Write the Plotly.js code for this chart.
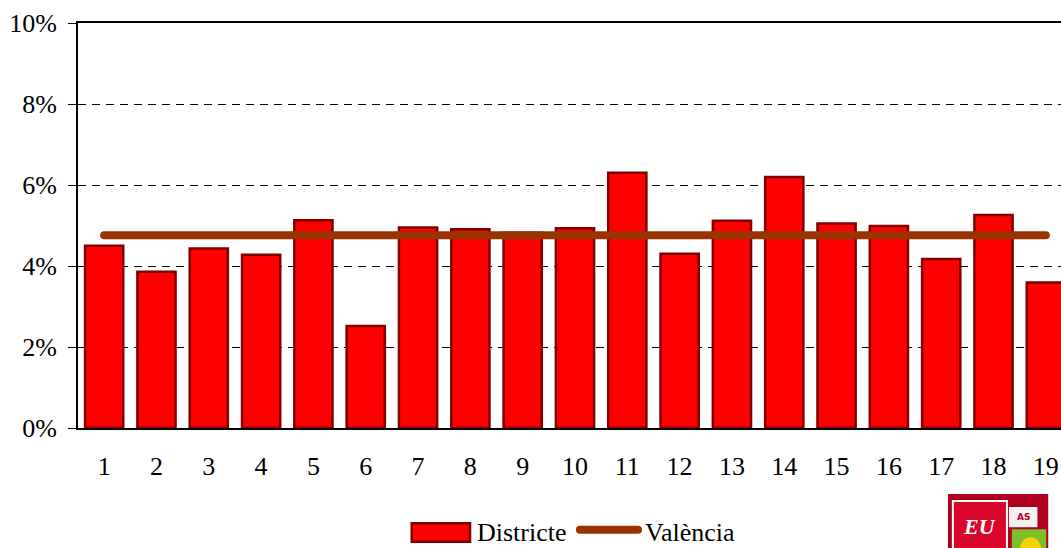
<!DOCTYPE html>
<html>
<head>
<meta charset="utf-8">
<script src="https://cdn.plot.ly/plotly-3.0.1.min.js"></script>
<style>
  html, body { margin: 0; padding: 0; background: #ffffff; }
  #chart { width: 1061px; height: 548px; }
  .scatterlayer path.js-line, .shapelayer path { stroke-linecap: round; }
</style>
</head>
<body>
<div id="chart"></div>
<script>
const districts = ["1", "2", "3", "4", "5", "6", "7", "8", "9", "10",
                   "11", "12", "13", "14", "15", "16", "17", "18", "19"];

// share per district (%)
const districtValues = [4.50, 3.86, 4.43, 4.28, 5.13, 2.52, 4.95, 4.91, 4.82, 4.93,
                        6.30, 4.30, 5.12, 6.20, 5.05, 4.99, 4.17, 5.26, 3.59];

// city average, same for every district
const valenciaValue = 4.76;
const valenciaValues = districts.map(() => valenciaValue);

const yTicks = [0, 2, 4, 6, 8, 10];
const yTickText = ["0%", "2%", "4%", "6%", "8%", "10%"];

const seriesNames = ["Districte", "València"];

const serif = "Liberation Serif, Times New Roman, serif";
const barRed = "#ff0000";
const barEdge = "#800000";
const lineBrown = "#993300";

const barTrace = {
  type: "bar",
  name: seriesNames[0],
  x: districts,
  y: districtValues,
  marker: {
    color: barRed,
    line: { color: barEdge, width: 2.5 }
  },
  showlegend: false,
  hoverinfo: "x+y"
};

const lineTrace = {
  type: "scatter",
  mode: "lines",
  name: seriesNames[1],
  x: districts,
  y: valenciaValues,
  line: { color: lineBrown, width: 8 },
  showlegend: false,
  hoverinfo: "y"
};

// legend drawn by hand so the bar swatch keeps its wide shape
const legendShapes = [
  { type: "rect", xref: "paper", yref: "paper",
    x0: 0.3395, x1: 0.3988, y0: -0.2807, y1: -0.2353,
    fillcolor: barRed, line: { color: barEdge, width: 2.5 } },
  { type: "line", xref: "paper", yref: "paper",
    x0: 0.5106, x1: 0.5697, y0: -0.2511, y1: -0.2511,
    line: { color: lineBrown, width: 8 } }
];

const legendLabels = [
  { xref: "paper", yref: "paper", x: 0.4036, y: -0.2568,
    xanchor: "left", yanchor: "middle", text: seriesNames[0], showarrow: false,
    font: { family: serif, size: 26, color: "#000000" } },
  { xref: "paper", yref: "paper", x: 0.5748, y: -0.2568,
    xanchor: "left", yanchor: "middle", text: seriesNames[1], showarrow: false,
    font: { family: serif, size: 26, color: "#000000" } }
];

// logo block in the bottom right corner
const logoShapes = [
  { type: "rect", xref: "paper", yref: "paper",
    x0: 0.885, x1: 0.987, y0: -0.33, y1: -0.163,
    fillcolor: "#b0001e", line: { width: 0 } },
  { type: "rect", xref: "paper", yref: "paper",
    x0: 0.89, x1: 0.945, y0: -0.33, y1: -0.18,
    fillcolor: "#d8062b", line: { color: "#ffffff", width: 2 } },
  { type: "rect", xref: "paper", yref: "paper",
    x0: 0.947, x1: 0.976, y0: -0.245, y1: -0.195,
    fillcolor: "#f2f2f2", line: { width: 0 } },
  { type: "rect", xref: "paper", yref: "paper",
    x0: 0.95, x1: 0.985, y0: -0.33, y1: -0.25,
    fillcolor: "#7fbf2a", line: { width: 0 } },
  { type: "circle", xref: "paper", yref: "paper",
    x0: 0.958, x1: 0.98, y0: -0.33, y1: -0.27,
    fillcolor: "#f5d20a", line: { width: 0 } }
];

const logoLabels = [
  { xref: "paper", yref: "paper", x: 0.9175, y: -0.243,
    xanchor: "center", yanchor: "middle",
    text: "<b><i>EU</i></b>", showarrow: false,
    font: { family: serif, size: 22, color: "#ffffff" } },
  { xref: "paper", yref: "paper", x: 0.9615, y: -0.22,
    xanchor: "center", yanchor: "middle",
    text: "<b>AS</b>", showarrow: false,
    font: { family: "DejaVu Sans", size: 9, color: "#c0001e" } }
];

const layout = {
  width: 1061,
  height: 548,
  margin: { l: 78, r: 0, t: 23, b: 120, autoexpand: false },
  paper_bgcolor: "#ffffff",
  plot_bgcolor: "#ffffff",
  font: { family: serif, size: 26, color: "#000000" },
  bargap: 0.27,
  showlegend: false,
  xaxis: {
    type: "category",
    range: [-0.5, 18.29],
    showline: true,
    linecolor: "#000000",
    linewidth: 2,
    mirror: true,
    ticks: "",
    showgrid: false,
    zeroline: false,
    ticklabelstandoff: 14,
    tickfont: { family: serif, size: 26 }
  },
  yaxis: {
    range: [0, 10],
    tickmode: "array",
    tickvals: yTicks,
    ticktext: yTickText,
    showline: true,
    linecolor: "#000000",
    linewidth: 2,
    ticks: "outside",
    ticklen: 8,
    tickcolor: "#000000",
    ticklabelstandoff: 6,
    showgrid: true,
    gridcolor: "#000000",
    gridwidth: 1,
    griddash: "8px,6px",
    zeroline: false,
    tickfont: { family: serif, size: 26 }
  },
  shapes: [...legendShapes, ...logoShapes],
  annotations: [...legendLabels, ...logoLabels]
};

Plotly.newPlot("chart", [barTrace, lineTrace], layout, { displayModeBar: false, staticPlot: true });
</script>
</body>
</html>
